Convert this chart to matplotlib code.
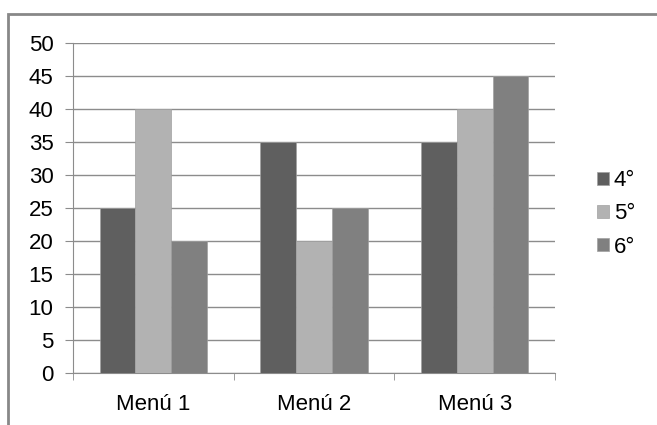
import numpy as np
import matplotlib.pyplot as plt
from matplotlib.patches import Rectangle

plt.rcParams['font.family'] = ['Liberation Sans', 'DejaVu Sans']

categorias = ['Menú 1', 'Menú 2', 'Menú 3']
series = ['4°', '5°', '6°']
valores = {
    '4°': [25, 35, 35],
    '5°': [40, 20, 40],
    '6°': [20, 25, 45],
}
colores = ['#5f5f5f', '#b2b2b2', '#808080']

fig = plt.figure(figsize=(6.57, 4.25), dpi=100)
ax = fig.add_axes([73 / 657, 52 / 425, 482 / 657, 330 / 425])

# borde del grafico
fig.patches.append(Rectangle((8 / 657, -0.05), 1.1, (425 - 14) / 425 + 0.05,
                             transform=fig.transFigure, fill=False,
                             edgecolor='#888888', linewidth=2))

x = np.arange(len(categorias))
w = 0.222
for i, s in enumerate(series):
    ax.bar(x + (i - 1) * w, valores[s], w, color=colores[i], label=s,
           edgecolor='#a0a0a0', linewidth=0.5, zorder=3)

ax.set_xlim(-0.5, 2.5)
ax.set_ylim(0, 50)
ax.set_yticks(np.arange(0, 51, 5))
ax.yaxis.grid(True, color='#8c8c8c', linewidth=1)
ax.set_axisbelow(True)

ax.set_xticks(x)
ax.set_xticklabels(categorias, fontsize=16)
ax.tick_params(axis='x', length=0, pad=15)
ax.set_xticks([-0.5, 0.5, 1.5, 2.5], minor=True)
ax.tick_params(axis='x', which='minor', length=5, color='#8c8c8c', direction='out')
ax.tick_params(axis='y', length=6, color='#8c8c8c', labelsize=16, pad=8)

for k in ['top', 'right']:
    ax.spines[k].set_visible(False)
for k in ['left', 'bottom']:
    ax.spines[k].set_color('#8c8c8c')

ax.legend(loc='center left', bbox_to_anchor=(1.087, 0.482), frameon=False,
          fontsize=16, handlelength=0.55, handleheight=0.55, handletextpad=0.2,
          labelspacing=0.55, borderaxespad=0, borderpad=0)

fig.savefig('out.png', dpi=100)
